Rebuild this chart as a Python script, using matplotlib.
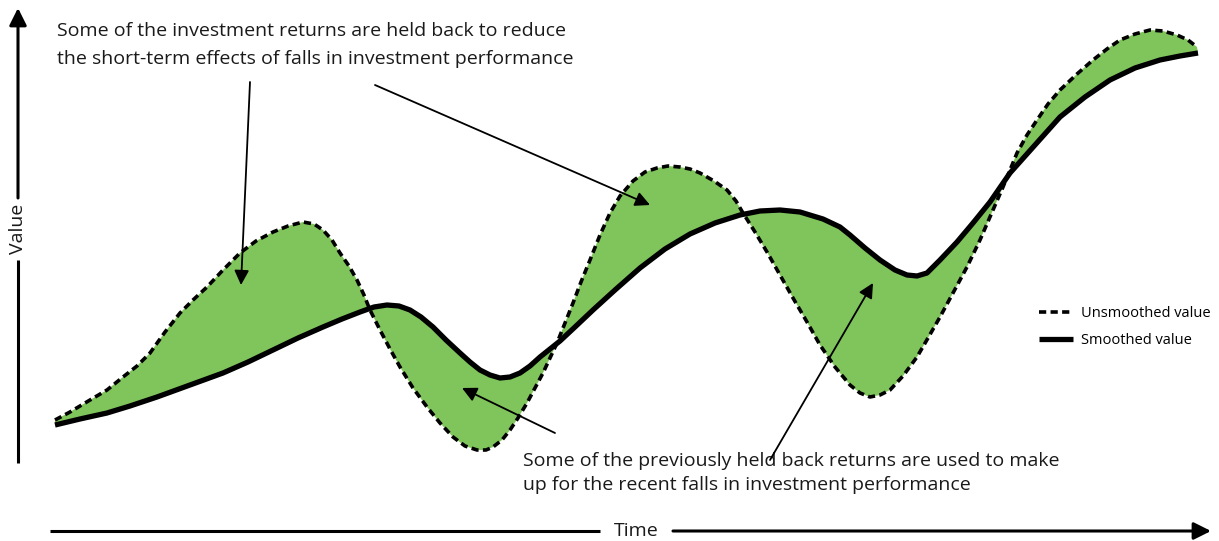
import numpy as np
import matplotlib
matplotlib.use("Agg")
import matplotlib.pyplot as plt

plt.rcParams['font.family'] = ['Open Sans', 'DejaVu Sans']

# unsmoothed (dashed) value
time_raw = [55, 70, 90, 107, 123, 137, 150, 165, 180, 193, 207, 223, 240, 256, 273,
            288, 303, 314, 323, 332, 340, 349, 357, 364, 370, 380, 390, 400, 413, 427,
            440, 453, 465, 477, 486, 493, 502, 510, 518, 527, 535, 543, 550, 557, 565,
            573, 581, 590, 600, 610, 620, 633, 645, 657, 668, 680, 690, 700, 714, 727,
            736, 743, 755, 767, 780, 793, 807, 820, 835, 850, 860, 870, 880, 890, 903,
            917, 928, 940, 953, 967, 980, 993, 1003, 1017, 1027, 1037, 1048, 1060, 1077,
            1093, 1107, 1120, 1135, 1150, 1163, 1177, 1188, 1197]
value_raw = [121, 129, 141, 151, 164, 175, 188, 209, 228, 241, 254, 271, 288, 300, 309,
             315, 319, 317, 311, 301, 288, 275, 261, 246, 231, 211, 192, 174, 153, 134,
             118, 104, 95, 91, 91, 94, 101, 111, 123, 138, 153, 168, 183, 198, 218,
             238, 259, 281, 306, 328, 345, 360, 369, 373, 375, 374, 372, 368, 360, 351,
             340, 328, 309, 289, 266, 243, 219, 196, 174, 156, 148, 144, 146, 151, 165,
             184, 203, 224, 248, 274, 301, 331, 354, 388, 406, 421, 437, 451, 467,
             481, 492, 501, 507, 511, 510, 506, 501, 494]

# smoothed (solid) value
time_smooth = [55, 80, 107, 130, 157, 190, 223, 248, 273, 298, 323, 342, 360, 374, 387,
               399, 410, 421, 433, 446, 460, 470, 480, 490, 500, 510, 520, 530, 540, 560,
               575, 593, 615, 640, 665, 690, 715, 740, 760, 780, 800, 823, 840, 850, 865,
               880, 895, 907, 917, 927, 940, 957, 973, 990, 1010, 1035, 1060, 1085, 1110,
               1135, 1160, 1180, 1198]
value_smooth = [116, 122, 128, 135, 144, 156, 168, 179, 191, 203, 214, 222, 229, 234, 236,
                235, 231, 224, 214, 201, 188, 179, 171, 166, 163, 164, 168, 175, 184, 200,
                214, 231, 251, 273, 292, 307, 318, 326, 330, 331, 329, 322, 314, 306, 293,
                281, 271, 266, 265, 268, 281, 299, 318, 339, 368, 396, 424, 444, 461,
                473, 481, 485, 488]

note_top = ("Some of the investment returns are held back to reduce\n"
            "the short-term effects of falls in investment performance")
note_bottom = ("Some of the previously held back returns are used to make\n"
               "up for the recent falls in investment performance")

green = '#80c45c'
ink = '#1a1a1a'

fig = plt.figure(figsize=(12.19, 5.41), dpi=100)
ax = fig.add_axes([0, 0, 1, 1])
ax.set_xlim(0, 1219)
ax.set_ylim(0, 541)
ax.axis('off')

# green area between the two curves
ax.fill(np.concatenate([time_raw, time_smooth[::-1]]),
        np.concatenate([value_raw, value_smooth[::-1]]),
        color=green, lw=0, zorder=1)
ax.plot(time_smooth, value_smooth, color='black', lw=3.8,
        solid_capstyle='butt', solid_joinstyle='round', zorder=3,
        label='Smoothed value')
ax.plot(time_raw, value_raw, color='black', lw=2.6, ls=(0, (2.0, 1.2)),
        zorder=2, label='Unsmoothed value')

h, l = ax.get_legend_handles_labels()
ax.legend(h[::-1], l[::-1], loc='center left', bbox_to_anchor=(1026, 214),
          bbox_transform=ax.transData, frameon=False, fontsize=10.5,
          handlelength=2.3, handletextpad=0.6, labelspacing=0.8)

# annotations
ax.text(57, 519, note_top, fontsize=14, va='top', ha='left',
        linespacing=1.75, color=ink)
ax.text(523, 89, note_bottom, fontsize=14, va='top', ha='left',
        linespacing=1.45, color=ink)

arrow = dict(arrowstyle='-|>', color='black', lw=1.3, mutation_scale=22,
             shrinkA=0, shrinkB=0)
ax.annotate('', xy=(241, 256), xytext=(250, 459), arrowprops=arrow)
ax.annotate('', xy=(650, 336), xytext=(375, 456), arrowprops=arrow)
ax.annotate('', xy=(462, 153), xytext=(555, 108), arrowprops=arrow)
ax.annotate('', xy=(873, 258), xytext=(770, 81), arrowprops=arrow)

# axis arrows
axis_arrow = dict(arrowstyle='-|>', color='black', lw=2.2, mutation_scale=26,
                  shrinkA=0, shrinkB=0)
ax.annotate('', xy=(18, 533), xytext=(18, 343), arrowprops=axis_arrow)
ax.plot([18, 18], [78, 281], color='black', lw=2.2, solid_capstyle='butt')
ax.text(18, 312, 'Value', rotation=90, ha='center', va='center', fontsize=14,
        color=ink)

ax.annotate('', xy=(1211, 10), xytext=(673, 10), arrowprops=axis_arrow)
ax.plot([50, 600], [10, 10], color='black', lw=2.2, solid_capstyle='butt')
ax.text(636, 10, 'Time', ha='center', va='center', fontsize=14, color=ink)

fig.savefig('out.png', dpi=100)
